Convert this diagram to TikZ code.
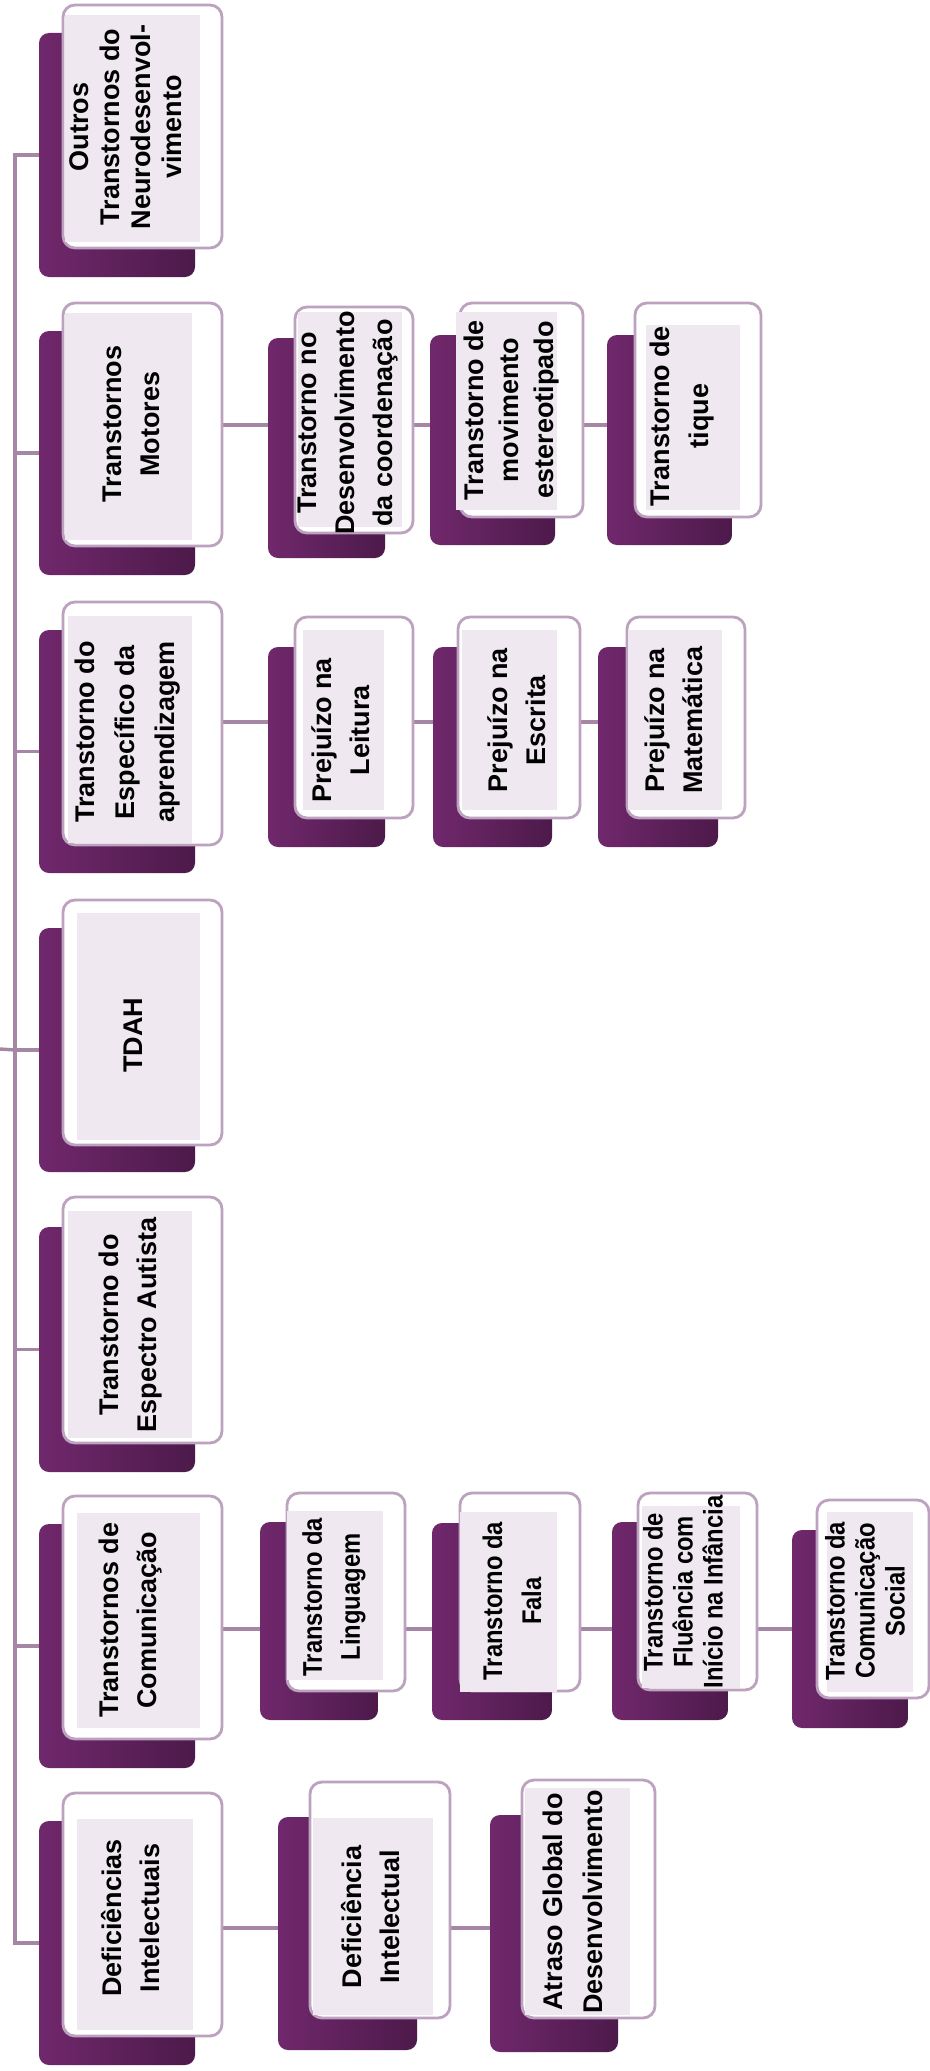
\documentclass[tikz,border=0pt]{standalone}
\usepackage{fontspec}
\setmainfont{Liberation Sans}
\newfontfamily\narrowfont[FakeStretch=0.88]{Liberation Sans}
\usetikzlibrary{fit,backgrounds}
\definecolor{dkL}{RGB}{112,40,108}
\definecolor{dkR}{RGB}{76,26,74}
\definecolor{frameC}{RGB}{188,162,190}
\definecolor{lavC}{RGB}{239,232,240}
\definecolor{connC}{RGB}{165,135,165}
\tikzset{
 backbox/.style={inner sep=0pt, rounded corners=5pt, left color=dkL, right color=dkR, draw=none},
 frontbox/.style={inner sep=0pt, rounded corners=6pt, fill=white, draw=frameC, line width=1.4pt},
 lavbox/.style={inner sep=0pt, fill=lavC, draw=none},
 lbl/.style={rotate=90, align=center, inner sep=0pt, text=black, font=\fontsize{13.5}{19}\selectfont\bfseries},
 nlbl/.style={lbl, font=\fontsize{13.5}{19}\selectfont\narrowfont\bfseries},
 conn/.style={draw=connC, line width=1.7pt},
}
\newcommand\tribox[4]{%
 \node[backbox, fit={#2}] (#1B) {};
 \node[frontbox, fit={#3}] (#1F) {};
 \node[lavbox, fit={#4}] (#1L) {};
}
\begin{document}
\begin{tikzpicture}[x=0.5pt,y=-0.5pt]
\useasboundingbox (0,0) rectangle (930,2071);
% top level
\tribox{out}{(39,33) (195,277)}{(63,5) (222,248)}{(65,15) (200,242)}
\tribox{mot}{(39,331) (195,575)}{(63,303) (222,546)}{(65,313) (192,540)}
\tribox{esp}{(39,630) (195,873)}{(63,602) (222,845)}{(68,616) (192,843)}
\tribox{tda}{(39,928) (195,1172)}{(63,900) (222,1145)}{(77,913) (200,1140)}
\tribox{aut}{(39,1227) (195,1472)}{(63,1197) (222,1443)}{(68,1211) (192,1438)}
\tribox{com}{(39,1524) (195,1768)}{(63,1496) (222,1739)}{(77,1513) (200,1728)}
\tribox{def}{(39,1821) (195,2065)}{(63,1793) (222,2036)}{(77,1819) (193,2030)}
% children
\tribox{coo}{(268,338) (385,558)}{(295,307) (413,533)}{(298,312) (402,527)}
\tribox{mov}{(430,335) (555,545)}{(460,303) (583,517)}{(456,312) (557,510)}
\tribox{tiq}{(607,335) (732,545)}{(635,303) (761,517)}{(646,325) (740,510)}
\tribox{lei}{(268,647) (385,847)}{(295,617) (413,818)}{(303,630) (384,810)}
\tribox{esc}{(433,647) (552,847)}{(458,617) (580,818)}{(462,630) (557,810)}
\tribox{mat}{(598,647) (718,847)}{(627,617) (745,818)}{(628,630) (722,810)}
\tribox{lin}{(260,1522) (378,1720)}{(287,1493) (405,1691)}{(287,1511) (383,1680)}
\tribox{fal}{(432,1523) (552,1720)}{(460,1493) (580,1691)}{(460,1512) (557,1692)}
\tribox{flu}{(612,1522) (728,1720)}{(638,1493) (757,1690)}{(642,1506) (740,1688)}
\tribox{soc}{(792,1530) (908,1728)}{(817,1500) (929,1698)}{(827,1512) (913,1692)}
\tribox{dei}{(278,1817) (417,2050)}{(310,1782) (450,2018)}{(313,1818) (433,2015)}
\tribox{atr}{(490,1815) (618,2052)}{(522,1780) (655,2018)}{(525,1788) (630,2015)}
% labels
\node[lbl, font=\fontsize{13.5}{15.5}\selectfont\bfseries] (outT) at (126,127) {Outros\\Transtornos do\\Neurodesenvol-\\vimento};
\node[lbl] (motT) at (131,424) {Transtornos\\Motores};
\node[lbl, font=\fontsize{13.5}{20}\selectfont\bfseries] (espT) at (128,732) {Transtorno do\\Específico da\\aprendizagem};
\node[lbl] (tdaT) at (133,1035) {TDAH};
\node[lbl] (autT) at (131,1325) {Transtorno do\\Espectro Autista};
\node[lbl] (comT) at (131,1620) {Transtornos de\\Comunicação};
\node[lbl] (defT) at (131,1918) {Deficiências\\Intelectuais};
\node[lbl] (cooT) at (348,423) {Transtorno no\\Desenvolvimento\\da coordenação};
\node[lbl, font=\fontsize{13.5}{17.5}\selectfont\bfseries] (movT) at (512,410) {Transtorno de\\movimento\\estereotipado};
\node[lbl, font=\fontsize{13.5}{19.5}\selectfont\bfseries] (tiqT) at (682,416) {Transtorno de\\tique};
\node[lbl] (leiT) at (341,730) {Prejuízo na\\Leitura};
\node[lbl] (escT) at (517,720) {Prejuízo na\\Escrita};
\node[lbl] (matT) at (674,720) {Prejuízo na\\Matemática};
\node[nlbl] (linT) at (334,1597) {Transtorno da\\Linguagem};
\node[nlbl, font=\fontsize{13.5}{19.5}\selectfont\narrowfont\bfseries] (falT) at (512,1601) {Transtorno da\\Fala};
\node[nlbl, font=\fontsize{13.5}{15}\selectfont\narrowfont\bfseries] (fluT) at (683,1592) {Transtorno de\\Fluência com\\Início na Infância};
\node[nlbl, font=\fontsize{13.5}{15}\selectfont\narrowfont\bfseries] (socT) at (865,1601) {Transtorno da\\Comunicação\\Social};
\node[lbl] (deiT) at (371,1917) {Deficiência\\Intelectual};
\node[lbl, font=\fontsize{13.5}{20}\selectfont\bfseries] (atrT) at (573,1902) {Atraso Global do\\Desenvolvimento};
% connectors
\coordinate (tx) at (15,0);
\coordinate (root) at (0,1049);
\coordinate (motL) at (0,425);
\coordinate (espL) at (0,722);
\coordinate (comL) at (0,1629);
\coordinate (defL) at (0,1928);
\begin{scope}[on background layer]
\fill[white] (0,0) rectangle (930,2071);
\draw[conn] (outB.west) -- (outB.west -| tx) -- (defB.west -| tx) -- (defB.west);
\draw[conn] (motB.west -| tx) -- (motB.west);
\draw[conn] (espB.west -| tx) -- (espB.west);
\draw[conn] (tdaB.west -| tx) -- (tdaB.west);
\draw[conn] (autB.west -| tx) -- (autB.west);
\draw[conn] (comB.west -| tx) -- (comB.west);
\draw[conn] (root) -- (tdaB.west -| tx);
\draw[conn] (motF.east |- motL) -- (cooB.west |- motL);
\draw[conn] (cooF.east |- motL) -- (movB.west |- motL);
\draw[conn] (movF.east |- motL) -- (tiqB.west |- motL);
\draw[conn] (espF.east |- espL) -- (leiB.west |- espL);
\draw[conn] (leiF.east |- espL) -- (escB.west |- espL);
\draw[conn] (escF.east |- espL) -- (matB.west |- espL);
\draw[conn] (comF.east |- comL) -- (linB.west |- comL);
\draw[conn] (linF.east |- comL) -- (falB.west |- comL);
\draw[conn] (falF.east |- comL) -- (fluB.west |- comL);
\draw[conn] (fluF.east |- comL) -- (socB.west |- comL);
\draw[conn] (defF.east |- defL) -- (deiB.west |- defL);
\draw[conn] (deiF.east |- defL) -- (atrB.west |- defL);
\end{scope}
\end{tikzpicture}
\end{document}
